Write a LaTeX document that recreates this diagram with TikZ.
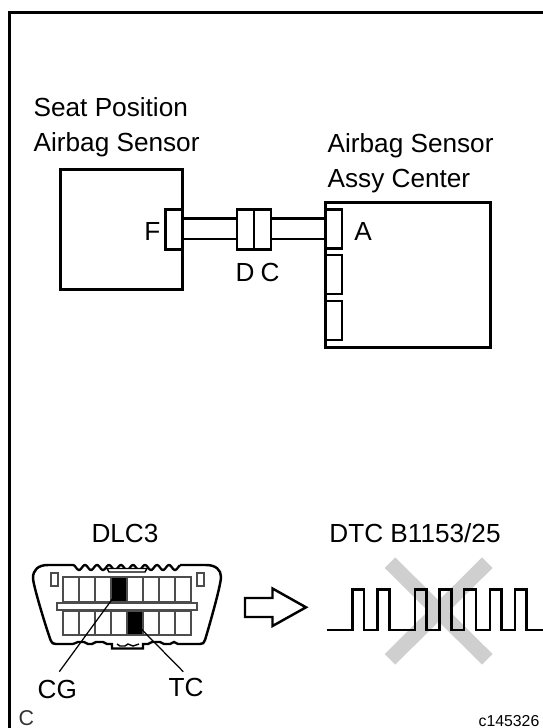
\documentclass[tikz,border=0pt]{standalone}
\usepackage{fontspec}
\setmainfont{Liberation Sans}
\usepackage{tikz}
\newcommand{\px}{0.02cm}
\tikzset{
  lbl/.style={anchor=base,inner sep=0pt,font=\fontsize{14.9}{17}\selectfont},
  part/.style={draw,line width=1.4pt,inner sep=0pt,outer sep=0pt},
  pin/.style={draw=black!70,line width=1.1pt,inner sep=0pt,outer sep=0pt,minimum width=16*\px,minimum height=24.2*\px},
  wire/.style={line width=1.4pt},
  leader/.style={line width=0.7pt}
}

\begin{document}
\begin{tikzpicture}[x=\px,y=-\px]
\useasboundingbox (0,0) rectangle (543,728);
\draw [line width=1.7pt] (9.3,728) -- (9.3,12.5) -- (543,12.5);
% wiring
\node [lbl,anchor=base west] (seat1) at (33.3,116.7) {Seat Position};
\node [lbl,anchor=base west] (seat2) at (33.3,151.7) {Airbag Sensor};
\node [lbl,anchor=base west] (assy1) at (327.3,152.3) {Airbag Sensor};
\node [lbl,anchor=base west] (assy2) at (327.3,187.3) {Assy Center};
\node [part,minimum width=122*\px,minimum height=120*\px] (seatbox) at (121.7,229.3) {};
\node [part,minimum width=165.4*\px,minimum height=145.4*\px] (assybox) at (408,275) {};
\node [part,fill=white,minimum width=17*\px,minimum height=40*\px] (connF) at (174.2,229.3) {};
\node [part,fill=white,minimum width=16.7*\px,minimum height=40*\px] (connD) at (245.6,229.3) {};
\node [part,fill=white,minimum width=16.7*\px,minimum height=40*\px] (connC) at (262.4,229.3) {};
\node [part,fill=white,minimum width=16.7*\px,minimum height=39*\px] (connA) at (333.7,228.8) {};
\node [part,fill=white,minimum width=16.7*\px,minimum height=39*\px] (connA2) at (333.7,274.5) {};
\node [part,fill=white,minimum width=16.7*\px,minimum height=39*\px] (connA3) at (333.7,320.3) {};
\coordinate (wiretop) at (0,218.3);
\coordinate (wirebot) at (0,239);
\draw [wire] (connF.east |- wiretop) -- (connD.west |- wiretop);
\draw [wire] (connF.east |- wirebot) -- (connD.west |- wirebot);
\draw [wire] (connC.east |- wiretop) -- (connA.west |- wiretop);
\draw [wire] (connC.east |- wirebot) -- (connA.west |- wirebot);
\node [lbl] (labF) at (152.3,240) {F};
\node [lbl] (labA) at (363,240.7) {A};
\node [lbl] (labD) at (245,281.7) {D};
\node [lbl] (labC) at (270,281.7) {C};
% DLC3 outline
\node [lbl] (dlc) at (125,542.3) {DLC3};
\draw [line width=1.4pt] (73,565) -- (48,565) .. controls (38,565) and (33,570) .. (33,578) .. controls (33,586) and (50,640) .. (51,641) .. controls (52,643) and (53,644) .. (56,644) -- (73,644);
\draw [line width=1.4pt] (180,565) -- (206,565) .. controls (216,565) and (221,570) .. (221,577) .. controls (221,586) and (206,637) .. (205,640) .. controls (204,643) and (203,644) .. (200,644) -- (182,644);
\draw [line width=1.3pt,domain=73:180,samples=120] plot (\x,{567.5-2.5*cos(30*(\x-73))});
\draw [line width=0.8pt,fill=white] (107,568.5) -- (147,568.5) -- (145,572) -- (109,572) -- cycle;
\draw [line width=1.3pt] (73,644) -- (78,642) -- (84,642) -- (88,644) -- (92,644) -- (96,642) -- (103,642) -- (107,644) -- (112,644) -- (112,648.5) -- (143,648.5) -- (143,644) -- (148,644) -- (152,642) -- (160,642) -- (164,644) -- (170,644) -- (174,642) -- (178,644) -- (182,644);
\draw [line width=0.8pt] (117,644) -- (120,646) -- (125,646) -- (128,644) -- (133,646) -- (139,644);
\node [part,line width=1.1pt,draw=black!70,minimum width=7.7*\px,minimum height=13*\px] (lugL) at (54.5,579.2) {};
\node [part,line width=1.1pt,draw=black!70,minimum width=7.7*\px,minimum height=13*\px] (lugR) at (200.5,579.2) {};
\foreach \c in {0,...,7} {
  \node [pin] (upper\c) at (71.3+16*\c,589.5) {};
  \node [pin] (lower\c) at (71.3+16*\c,623) {};
}
\node [pin,fill=black] (cgpin) at (119.3,589.5) {};
\node [pin,fill=black] (tcpin) at (135.3,623) {};
\node [draw=black!70,line width=1.1pt,fill=white,inner sep=0pt,outer sep=0pt,minimum width=140*\px,minimum height=7.3*\px] (bar) at (127.3,606.3) {};
\node [lbl] (labCG) at (57.3,698) {CG};
\node [lbl] (labTC) at (186,696.7) {TC};
\coordinate (cgend) at (59.3,671.7);
\coordinate (tcend) at (183.3,671.7);
\draw [leader] (cgpin.center) -- (cgend);
\draw [leader] (tcpin.center) -- (tcend);
% arrow
\draw [line width=1.4pt,line join=miter] (245,598) -- (272.5,598) -- (272.5,588.5) -- (306,607.3) -- (272.5,626) -- (272.5,617) -- (245,617) -- cycle;
% signal
\node [lbl] (dtc) at (415,542.3) {DTC B1153/25};
\draw [line width=8.5pt,draw=black!19] (390,562.7) -- (487.3,659.3);
\draw [line width=8.5pt,draw=black!19] (487.3,562.7) -- (390,659.3);
\draw [line width=1.5pt] (327.3,630) -- (352.3,630) -- (352.3,589.3) -- (364,589.3) -- (364,630) -- (377.3,630) -- (377.3,589.3) -- (389.3,589.3) -- (389.3,630) -- (415,630) -- (415,589.3) -- (426.7,589.3) -- (426.7,630) -- (439.3,630) -- (439.3,589.3) -- (451.7,589.3) -- (451.7,630) -- (464,630) -- (464,589.3) -- (476,589.3) -- (476,630) -- (490,630) -- (490,589.3) -- (501.7,589.3) -- (501.7,630) -- (515,630) -- (515,589.3) -- (526.7,589.3) -- (526.7,630) -- (543,630);
\node [lbl,font=\fontsize{12.2}{14}\selectfont,text=black!80,anchor=base west] (labcorner) at (18.3,725) {C};
\node [lbl,font=\fontsize{9}{11}\selectfont] (code) at (509,726) {c145326};
\end{tikzpicture}
\end{document}
